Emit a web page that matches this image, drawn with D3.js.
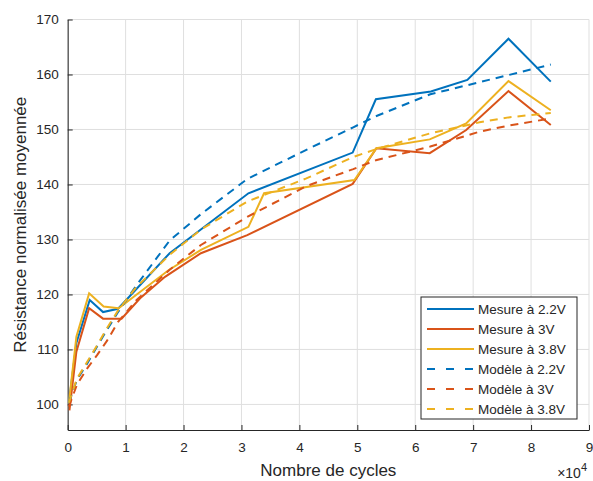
<!DOCTYPE html>
<html><head><meta charset="utf-8">
<script src="https://cdn.jsdelivr.net/npm/d3@7"></script>
<style>
body{margin:0;background:#fff;}
text{font-family:"Liberation Sans",Arial,sans-serif;fill:#262626;}
</style></head><body>
<svg id="c" width="593" height="481"></svg>
<script>
// ---- data (cycles, normalized mean resistance) ----
const xTicks = [0,1,2,3,4,5,6,7,8,9];
const yTicks = [100,110,120,130,140,150,160,170];

const mes22X = [200,1500,3800,6100,8700,17600,31200,49200,53200,62700,69000,76100,83400];
const mes22Y = [100.2,111.2,119.0,116.8,117.4,127.5,138.4,145.8,155.5,156.9,159.0,166.5,158.7];

const mes3X = [300,1500,3700,6100,9300,12500,16800,23000,31000,49200,53300,62500,68800,76100,83400];
const mes3Y = [98.9,109.6,117.5,115.6,115.6,119.3,123.2,127.5,130.8,140.1,146.6,145.7,149.9,157.0,150.8];

const mes38X = [200,1500,3700,6200,8800,17400,23000,31200,33900,49500,53300,62500,68800,76100,83400];
const mes38Y = [100.2,112.3,120.2,117.8,117.5,124.4,128.1,132.3,138.4,140.8,146.6,148.2,151.1,158.8,153.5];

const modX   = [200,1600,3400,5100,6800,8700,11900,17600,23000,31000,41200,49300,53200,62600,71100,76100,83400];
const mod22Y = [100.3,104.5,107.5,110.6,113.6,116.8,121.7,129.8,134.6,141.0,146.3,150.4,152.4,156.4,158.6,159.9,161.8];
const mod3Y  = [99.6,103.6,106.6,109.0,111.6,115.0,119.0,124.5,129.0,134.1,139.7,142.8,144.4,146.9,149.6,150.7,152.0];
const mod38Y = [100.3,104.7,107.8,110.8,113.9,117.1,121.4,127.2,131.8,136.9,141.1,145.0,146.4,149.3,151.3,152.2,153.0];

const seriesNames = ["Mesure à 2.2V","Mesure à 3V","Mesure à 3.8V","Modèle à 2.2V","Modèle à 3V","Modèle à 3.8V"];
const colors = ["#0072BD","#D95319","#EDB120"];

const series = [
  {name:seriesNames[0], x:mes22X, y:mes22Y, c:colors[0], dash:false},
  {name:seriesNames[1], x:mes3X,  y:mes3Y,  c:colors[1], dash:false},
  {name:seriesNames[2], x:mes38X, y:mes38Y, c:colors[2], dash:false},
  {name:seriesNames[3], x:modX,   y:mod22Y, c:colors[0], dash:true},
  {name:seriesNames[4], x:modX,   y:mod3Y,  c:colors[1], dash:true},
  {name:seriesNames[5], x:modX,   y:mod38Y, c:colors[2], dash:true}
];

// ---- layout ----
const L=67.7, R=589, T=19.5, B=430;
const svg = d3.select("#c");
const x = d3.scaleLinear().domain([0,90000]).range([L,R]);
const y = d3.scaleLinear().domain([95.35,170]).range([B,T]);

// grid
const g = svg.append("g");
g.selectAll(".vg").data(xTicks).join("line")
  .attr("x1",d=>x(d*1e4)).attr("x2",d=>x(d*1e4)).attr("y1",T).attr("y2",B)
  .attr("stroke","#dfdfdf").attr("stroke-width",1);
g.selectAll(".hg").data(yTicks).join("line")
  .attr("x1",L).attr("x2",R).attr("y1",d=>y(d)).attr("y2",d=>y(d))
  .attr("stroke","#dfdfdf").attr("stroke-width",1);

// axes
const xAxis = d3.axisBottom(x).tickValues(xTicks.map(d=>d*1e4)).tickFormat(d=>d/1e4).tickSizeInner(-5).tickSizeOuter(0).tickPadding(12);
const yAxis = d3.axisLeft(y).tickValues(yTicks).tickSizeInner(-5).tickSizeOuter(0).tickPadding(9);
const ax = svg.append("g").attr("transform",`translate(0,${B})`).call(xAxis);
const ay = svg.append("g").attr("transform",`translate(${L},0)`).call(yAxis);
[ax,ay].forEach(a=>{
  a.select(".domain").attr("stroke","#262626").attr("stroke-width",1);
  a.selectAll(".tick line").attr("stroke","#262626");
  a.selectAll(".tick text").attr("font-size","13.5px").attr("fill","#262626")
   .attr("font-family","Liberation Sans, Arial, sans-serif");
});

// lines
const line = d3.line().x(d=>x(d[0])).y(d=>y(d[1]));
const lg = svg.append("g");
series.forEach(s=>{
  lg.append("path").datum(s.x.map((v,i)=>[v,s.y[i]]))
    .attr("d",line).attr("fill","none").attr("stroke",s.c)
    .attr("stroke-width",2).attr("stroke-linejoin","miter")
    .attr("stroke-dasharray", s.dash ? "8,6" : null);
});

// labels
svg.append("text").attr("x",(L+R)/2).attr("y",476).attr("text-anchor","middle")
  .attr("font-size","17px").text("Nombre de cycles");
const ex = svg.append("text").attr("x",587).attr("y",478).attr("text-anchor","end").attr("font-size","14px");
ex.append("tspan").text("×10");
ex.append("tspan").attr("dy",-7).attr("font-size","11px").text("4");
svg.append("text").attr("transform",`translate(26,${(T+B)/2}) rotate(-90)`)
  .attr("text-anchor","middle").attr("font-size","17px").text("Résistance normalisée moyennée");

// legend
const lgX=421, lgY=297, lgW=156, lgH=122;
const leg = svg.append("g");
leg.append("rect").attr("x",lgX).attr("y",lgY).attr("width",lgW).attr("height",lgH)
  .attr("fill","#fff").attr("stroke","#262626").attr("stroke-width",1);
series.forEach((s,i)=>{
  const cy = lgY+12+i*20;
  leg.append("line").attr("x1",lgX+6).attr("x2",lgX+53).attr("y1",cy).attr("y2",cy)
    .attr("stroke",s.c).attr("stroke-width",2).attr("stroke-dasharray", s.dash ? "8,11" : null);
  leg.append("text").attr("x",lgX+57).attr("y",cy+5).attr("font-size","13.5px").text(s.name);
});
</script>
</body></html>
